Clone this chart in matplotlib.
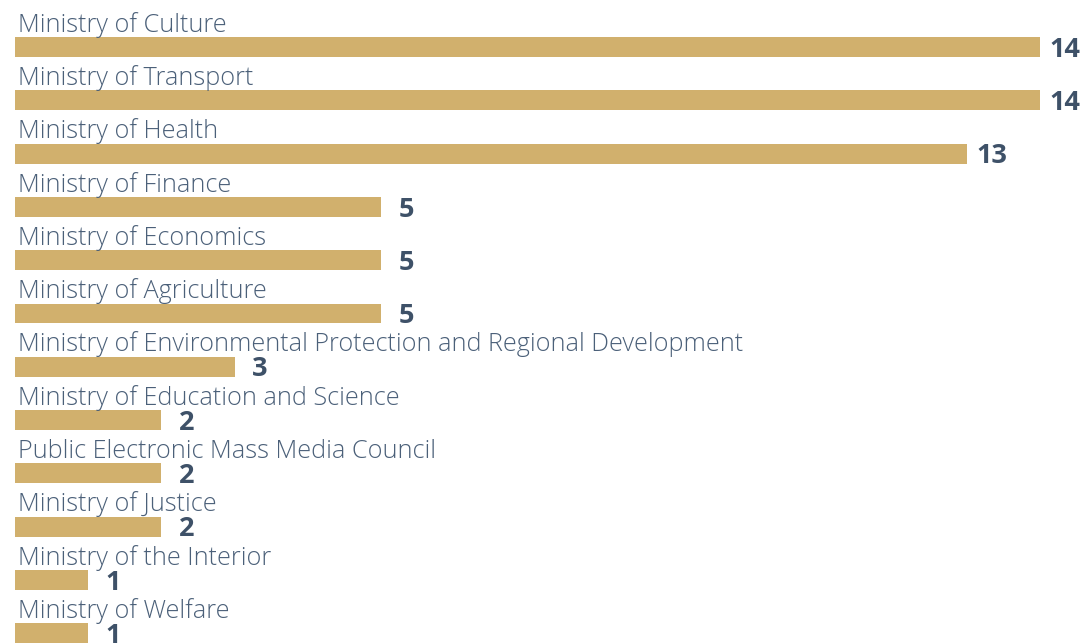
import matplotlib
matplotlib.use("Agg")
import matplotlib.pyplot as plt

categories = [
    "Ministry of Culture",
    "Ministry of Transport",
    "Ministry of Health",
    "Ministry of Finance",
    "Ministry of Economics",
    "Ministry of Agriculture",
    "Ministry of Environmental Protection and Regional Development",
    "Ministry of Education and Science",
    "Public Electronic Mass Media Council",
    "Ministry of Justice",
    "Ministry of the Interior",
    "Ministry of Welfare",
]
values = [14, 14, 13, 5, 5, 5, 3, 2, 2, 2, 1, 1]

bar_color = "#D1B06D"
label_color = "#4B6079"
value_color = "#3E5168"

W, H = 1083, 643
fig = plt.figure(figsize=(W / 100, H / 100), dpi=100)
ax = fig.add_axes([15 / W, 0, 1 - 15 / W, 1])

ypos = list(range(len(categories)))
bar_h = 0.375
ax.barh(ypos, values, height=bar_h, color=bar_color)

for y, cat, v in zip(ypos, categories, values):
    ax.text(0.04, y - bar_h / 2 - 0.1, cat, ha="left", va="baseline",
            fontsize=18.2, color=label_color, family="Open Sans", fontweight="light")
    ax.annotate(str(v), xy=(v, y + 0.05), xytext=(18, 0), textcoords="offset points",
                ha="center", va="center", fontsize=19.5, fontweight="bold",
                color=value_color, family="Open Sans")

ax.set_xlim(0, (W - 15) / 73.2)
ax.set_ylim((H - 47) / 53.3, -47 / 53.3)
ax.axis("off")

fig.savefig("out.png", dpi=100)
